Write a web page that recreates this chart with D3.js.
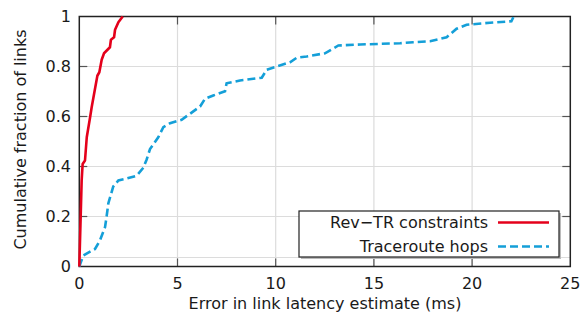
<!DOCTYPE html>
<html>
<head>
<meta charset="utf-8">
<script src="https://cdn.jsdelivr.net/npm/d3@7"></script>
<style>
  body { margin: 0; background: #fff; }
  text { font-family: "DejaVu Sans", sans-serif; }
</style>
</head>
<body>
<div id="chart"></div>
<script>
// Data (x = error in ms, y = cumulative fraction)
const revTrX = [0, 0.07, 0.12, 0.17, 0.29, 0.38, 0.55, 0.63, 0.80, 0.92, 1.02, 1.14, 1.26, 1.56, 1.61, 1.77, 1.82, 1.99, 2.21];
const revTrY = [0, 0.2, 0.344, 0.41, 0.424, 0.517, 0.597, 0.637, 0.711, 0.763, 0.777, 0.827, 0.853, 0.877, 0.907, 0.917, 0.947, 0.977, 1];

const hopsX = [0, 0.2, 0.8, 1.05, 1.31, 1.39, 1.48, 1.73, 1.99, 2.33, 2.92, 3.26, 3.43, 3.6, 4.02, 4.28, 4.62, 5.21, 5.64, 6.15, 6.4, 6.82, 7.42, 7.5, 8.18, 9.29, 9.54, 10.05, 10.73, 11.07, 11.58, 12.51, 13.19, 14.3, 16.33, 17.0, 17.86, 18.7, 19.21, 19.72, 20.91, 22.0, 22.1];
const hopsY = [0, 0.044, 0.07, 0.104, 0.157, 0.2, 0.253, 0.32, 0.344, 0.35, 0.363, 0.395, 0.428, 0.47, 0.517, 0.557, 0.573, 0.587, 0.611, 0.64, 0.671, 0.684, 0.701, 0.733, 0.744, 0.755, 0.787, 0.80, 0.817, 0.835, 0.84, 0.853, 0.884, 0.888, 0.893, 0.897, 0.901, 0.917, 0.951, 0.967, 0.975, 0.981, 0.997];

const xTicks = [0, 5, 10, 15, 20, 25];
const yTicks = [0, 0.2, 0.4, 0.6, 0.8, 1];
const yTickLabels = ["0", "0.2", "0.4", "0.6", "0.8", "1"];
const refLine = [0.036];
const seriesNames = ["Rev\u2212TR constraints", "Traceroute hops"];

const COLORS = { red: "#e4001b", blue: "#149fd8", grid: "#dcdcdc", tick: "#555", text: "#1a1a1a" };
const W = 582, H = 313;
const FS = 16;

const x = d3.scaleLinear().domain([0, 25]).range([79.3, 570.3]);
const y = d3.scaleLinear().domain([0, 1]).range([266.5, 16.5]);

const svg = d3.select("#chart").append("svg").attr("width", W).attr("height", H);

// grid
svg.append("g").selectAll("line").data(xTicks.slice(1, -1)).join("line")
  .attr("x1", (d) => x(d)).attr("x2", (d) => x(d))
  .attr("y1", y(0)).attr("y2", y(1))
  .attr("stroke", COLORS.grid).attr("stroke-width", 1.2);
svg.append("g").selectAll("line").data(yTicks.slice(1, -1).concat(refLine)).join("line")
  .attr("x1", x(0)).attr("x2", x(25))
  .attr("y1", (d) => y(d)).attr("y2", (d) => y(d))
  .attr("stroke", COLORS.grid).attr("stroke-width", 1.2);

// inward ticks on all four sides
const tl = 8;
const tickG = svg.append("g").attr("stroke", COLORS.tick).attr("stroke-width", 1.2);
xTicks.slice(1, -1).forEach((t) => {
  tickG.append("line").attr("x1", x(t)).attr("x2", x(t)).attr("y1", y(0)).attr("y2", y(0) - tl);
  tickG.append("line").attr("x1", x(t)).attr("x2", x(t)).attr("y1", y(1)).attr("y2", y(1) + tl);
});
yTicks.slice(1, -1).forEach((t) => {
  tickG.append("line").attr("x1", x(0)).attr("x2", x(0) + tl).attr("y1", y(t)).attr("y2", y(t));
  tickG.append("line").attr("x1", x(25)).attr("x2", x(25) - tl).attr("y1", y(t)).attr("y2", y(t));
});

// border
svg.append("rect")
  .attr("x", x(0)).attr("y", y(1))
  .attr("width", x(25) - x(0)).attr("height", y(0) - y(1))
  .attr("fill", "none").attr("stroke", "#222").attr("stroke-width", 1.5);

// tick labels
svg.append("g").selectAll("text").data(xTicks).join("text")
  .attr("x", (d) => x(d)).attr("y", 289)
  .attr("text-anchor", "middle").attr("font-size", FS).attr("fill", COLORS.text)
  .text((d) => d);
svg.append("g").selectAll("text").data(yTicks).join("text")
  .attr("x", 71).attr("y", (d) => y(d) + 5.5)
  .attr("text-anchor", "end").attr("font-size", FS).attr("fill", COLORS.text)
  .text((d, i) => yTickLabels[i]);

// axis titles
svg.append("text")
  .attr("x", 325).attr("y", 309)
  .attr("text-anchor", "middle").attr("font-size", FS).attr("fill", COLORS.text)
  .text("Error in link latency estimate (ms)");
svg.append("text")
  .attr("transform", `translate(26,${(y(0) + y(1)) / 2 - 2}) rotate(-90)`)
  .attr("text-anchor", "middle").attr("font-size", FS).attr("fill", COLORS.text)
  .text("Cumulative fraction of links");

// series
const line = d3.line().x((d) => x(d[0])).y((d) => y(d[1]));
svg.append("path")
  .attr("d", line(d3.zip(hopsX, hopsY)))
  .attr("fill", "none").attr("stroke", COLORS.blue).attr("stroke-width", 2.6)
  .attr("stroke-dasharray", "8,4");
svg.append("path")
  .attr("d", line(d3.zip(revTrX, revTrY)))
  .attr("fill", "none").attr("stroke", COLORS.red).attr("stroke-width", 2.6)
  .attr("stroke-linejoin", "round");

// legend
const leg = svg.append("g");
leg.append("rect").attr("x", 301).attr("y", 213).attr("width", 260).attr("height", 46)
  .attr("fill", "#bbb");
leg.append("rect").attr("x", 299).attr("y", 211).attr("width", 260).attr("height", 46)
  .attr("fill", "#fff").attr("stroke", "#222").attr("stroke-width", 1.2);
const legColors = [COLORS.red, COLORS.blue];
seriesNames.forEach((name, i) => {
  const cy = 222.5 + i * 24;
  leg.append("text").attr("x", 488).attr("y", cy + 5.5)
    .attr("text-anchor", "end").attr("font-size", FS).attr("fill", COLORS.text)
    .text(name);
  leg.append("line").attr("x1", 498).attr("x2", 549).attr("y1", cy).attr("y2", cy)
    .attr("stroke", legColors[i]).attr("stroke-width", 2.6)
    .attr("stroke-dasharray", i === 1 ? "8,4" : null);
});
</script>
</body>
</html>
